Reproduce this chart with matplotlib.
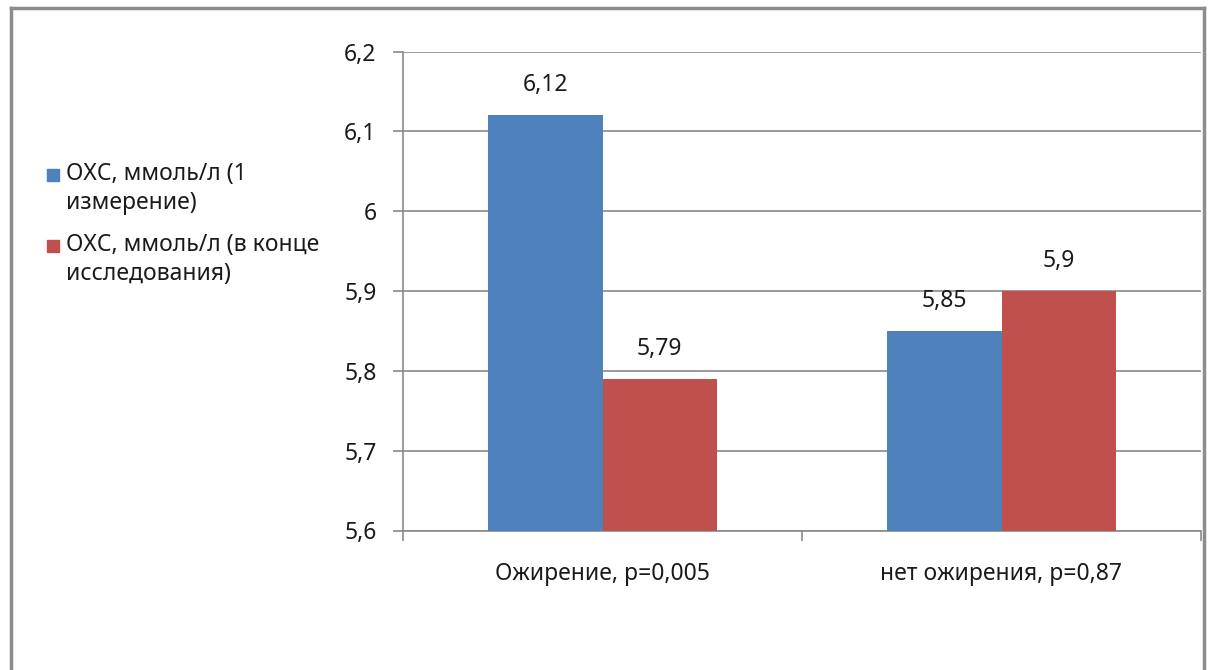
import numpy as np
import matplotlib
matplotlib.use("Agg")
import matplotlib.pyplot as plt
from matplotlib.patches import Rectangle
from matplotlib.lines import Line2D

plt.rcParams['font.family'] = ['Noto Sans', 'DejaVu Sans']

# данные: ОХС до и после, по группам
groups = ['Ожирение, p=0,005', 'нет ожирения, p=0,87']
series_names = ['ОХС, ммоль/л (1\nизмерение)', 'ОХС, ммоль/л (в конце\nисследования)']
first_measure = [6.12, 5.85]
end_of_study = [5.79, 5.9]
colors = ['#4F81BD', '#C0504D']
y_ticks = [5.6, 5.7, 5.8, 5.9, 6.0, 6.1, 6.2]

W, H = 1212, 670
fig = plt.figure(figsize=(W / 100, H / 100), dpi=100)
ax = fig.add_axes([403 / W, (H - 530.5) / H, 798 / W, 479 / H])

grid_c = '#8a8a8a'
fs = 16.5

def fmt(v):
    return f"{v:g}".replace('.', ',')

x = np.arange(len(groups)) + 0.5
bw = 0.287
for i, vals in enumerate([first_measure, end_of_study]):
    xs = x + (i - 0.5) * bw
    ax.bar(xs, np.array(vals) - y_ticks[0], bw, bottom=y_ticks[0],
           color=colors[i], zorder=3)
    for xi, v in zip(xs, vals):
        ax.annotate(fmt(v), (xi, v), xytext=(0, 18), textcoords='offset pixels',
                    ha='center', va='bottom', fontsize=fs, color='#1a1a1a')

ax.set_xlim(0, len(groups))
ax.set_ylim(y_ticks[0], y_ticks[-1])
ax.set_yticks(y_ticks)
ax.set_yticklabels([fmt(round(v, 1)) for v in y_ticks])
ax.yaxis.grid(True, color=grid_c, lw=1.2, zorder=0)

# границы категорий — метки, подписи — по центрам
ax.set_xticks(np.arange(len(groups) + 1))
ax.set_xticklabels([])
ax.set_xticks(x, minor=True)
ax.set_xticklabels(groups, minor=True)
ax.tick_params(axis='x', which='major', length=7, width=1.2, color=grid_c)
ax.tick_params(axis='x', which='minor', length=0, pad=23, labelsize=fs, labelcolor='#1a1a1a')
ax.tick_params(axis='y', length=7, width=1.2, color=grid_c, pad=12,
               labelsize=fs, labelcolor='#1a1a1a')

for s in ['top', 'right']:
    ax.spines[s].set_visible(False)
for s in ['left', 'bottom']:
    ax.spines[s].set_color(grid_c)
    ax.spines[s].set_linewidth(1.2)

# легенда слева
leg_y = [175, 246]
for name, c, yy in zip(series_names, colors, leg_y):
    fig.patches.append(Rectangle((47 / W, 1 - (yy + 6) / H), 12 / W, 12 / H,
                                 transform=fig.transFigure, color=c))
    fig.text(66 / W, 1 - (yy - 13) / H, name, ha='left', va='top',
             fontsize=fs, color='#1a1a1a', linespacing=1.3)

# рамка вокруг диаграммы
frame_c = '#8c8c8c'
for xs_, ys_ in [([11, 11], [8, 670]), ([11, 1204], [8, 8]), ([1204, 1204], [8, 670])]:
    fig.lines.append(Line2D([v / W for v in xs_], [1 - v / H for v in ys_],
                            transform=fig.transFigure, color=frame_c, lw=2.5))

fig.savefig('out.png', dpi=100)
